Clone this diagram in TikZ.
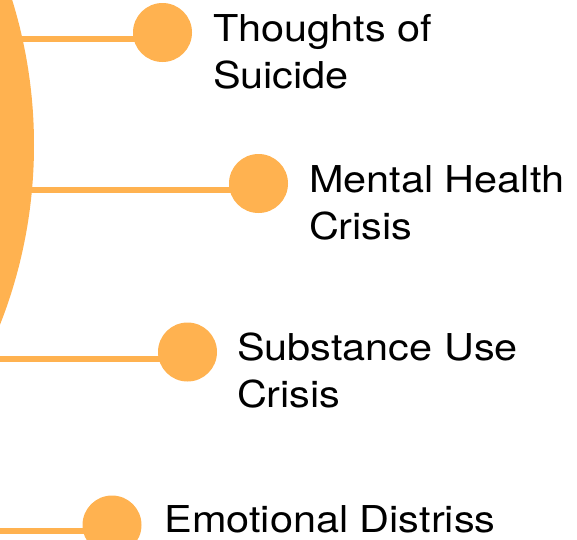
\documentclass[tikz,border=0pt]{standalone}
\usepackage{fontspec}
\setmainfont{TeX Gyre Heros}[FakeStretch=1.12]
\usetikzlibrary{positioning,backgrounds}
\definecolor{hubor}{RGB}{255,178,80}
\begin{document}
\begin{tikzpicture}[x=1pt,y=-1pt,outer sep=0pt,inner sep=0pt,
    dot/.style={circle,fill=hubor,minimum size=59pt},
    link/.style={draw=hubor,line width=6pt},
    lbl/.style={anchor=base west,align=left,text=black,font=\fontsize{37}{47}\selectfont}]
  \useasboundingbox (0,0) rectangle (577,539);
  \clip (0,0) rectangle (577,539);
  % hub, only its right rim shows
  \fill[hubor] (-456,145) circle (490);
  \node[dot] (c1) at (162.5,32.5) {};
  \node[dot] (c2) at (258.5,183.5) {};
  \node[dot] (c3) at (187.5,352) {};
  \node[dot] (c4) at (112,525) {};
  \coordinate (s1) at (0,39);
  \coordinate (s2) at (0,190);
  \coordinate (s3) at (0,359);
  \coordinate (s4) at (0,531);
  \begin{scope}[on background layer]
    \path%
      (s1) edge [link] (s1 -| c1)
      (s2) edge [link] (s2 -| c2)
      (s3) edge [link] (s3 -| c3)
      (s4) edge [link] (s4 -| c4);
  \end{scope}
  % base of a two-line label is its second line
  \node[lbl] (t1) at ([xshift=21pt,yshift=-55.5pt]c1.east) {Thoughts of\\Suicide};
  \node[lbl] (t2) at ([xshift=21pt,yshift=-56pt]c2.east) {Mental Health\\Crisis};
  \node[lbl] (t3) at ([xshift=20pt,yshift=-55pt]c3.east) {Substance Use\\Crisis};
  \node[lbl] (t4) at ([xshift=23pt,yshift=-7.5pt]c4.east) {Emotional Distriss};
\end{tikzpicture}
\end{document}
